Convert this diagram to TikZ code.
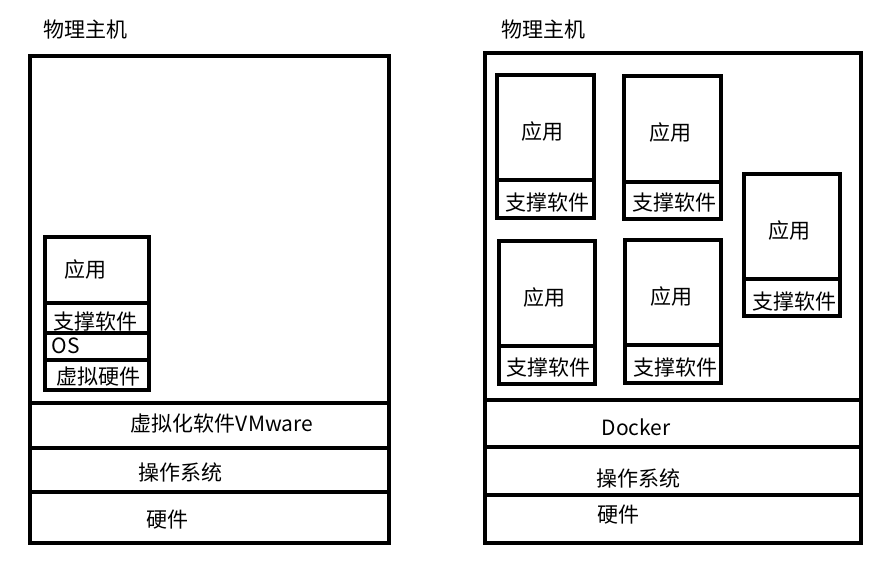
\documentclass[tikz,border=0pt]{standalone}
\usepackage{fontspec}
\newfontfamily\cjk{Noto Sans CJK SC}

\tikzset{
  box/.style={draw, line width=4pt, inner sep=0pt},
  txt/.style={font=\cjk\fontsize{21}{24}\selectfont, inner sep=0pt}
}

\begin{document}
\begin{tikzpicture}[x=1pt, y=-1pt]
  \useasboundingbox (0,0) rectangle (882,568);

  % left: virtual machine
  \node [txt] (titleL) at (85,30) {物理主机};
  \node [box, minimum width=359, minimum height=347] (hostL) at (209.5,229.5) {};
  \node [box, minimum width=359, minimum height=45] (vmwL) at (209.5,425.5) {};
  \node [box, minimum width=359, minimum height=44] (osL) at (209.5,470) {};
  \node [box, minimum width=359, minimum height=51] (hwL) at (209.5,517.5) {};
  \node [txt] at (222,424) {虚拟化软件VMware};
  \node [txt] at (180,472) {操作系统};
  \node [txt] at (167,520) {硬件};

  \node [box, minimum width=104, minimum height=66] (appVM) at (97,270) {};
  \node [box, minimum width=104, minimum height=30] (supVM) at (97,318) {};
  \node [box, minimum width=104, minimum height=27] (osVM) at (97,346.5) {};
  \node [box, minimum width=104, minimum height=30] (hwVM) at (97,375) {};
  \node [txt] at (85,270) {应用};
  \node [txt] at (95,322) {支撑软件};
  \node [txt] at (66,346) {OS};
  \node [txt] at (98,377) {虚拟硬件};

  % right: docker
  \node [txt] (titleR) at (543,30) {物理主机};
  \node [box, minimum width=376, minimum height=347] (hostR) at (673,226.5) {};
  \node [box, minimum width=376, minimum height=47] (dockR) at (673,423.5) {};
  \node [box, minimum width=376, minimum height=48] (osR) at (673,471) {};
  \node [box, minimum width=376, minimum height=48] (hwR) at (673,519) {};
  \node [txt] at (636,427) {Docker};
  \node [txt] at (638,478) {操作系统};
  \node [txt] at (618,515) {硬件};

  \node [box, minimum width=97, minimum height=105] (app1) at (545.5,127.5) {};
  \node [box, minimum width=97, minimum height=38] (sup1) at (545.5,199) {};
  \node [txt] at (542,132) {应用};
  \node [txt] at (547,203) {支撑软件};

  \node [box, minimum width=97, minimum height=106] (app2) at (672.5,129) {};
  \node [box, minimum width=97, minimum height=37] (sup2) at (672.5,200.5) {};
  \node [txt] at (670,133) {应用};
  \node [txt] at (674,203) {支撑软件};

  \node [box, minimum width=96, minimum height=105] (app3) at (547,293.5) {};
  \node [box, minimum width=96, minimum height=38] (sup3) at (547,365) {};
  \node [txt] at (544,298) {应用};
  \node [txt] at (548,368) {支撑软件};

  \node [box, minimum width=96, minimum height=105] (app4) at (673,292.5) {};
  \node [box, minimum width=96, minimum height=38] (sup4) at (673,364) {};
  \node [txt] at (671,297) {应用};
  \node [txt] at (675,368) {支撑软件};

  \node [box, minimum width=96, minimum height=105] (app5) at (792,226.5) {};
  \node [box, minimum width=96, minimum height=37] (sup5) at (792,297.5) {};
  \node [txt] at (789,231) {应用};
  \node [txt] at (794,302) {支撑软件};
\end{tikzpicture}
\end{document}
